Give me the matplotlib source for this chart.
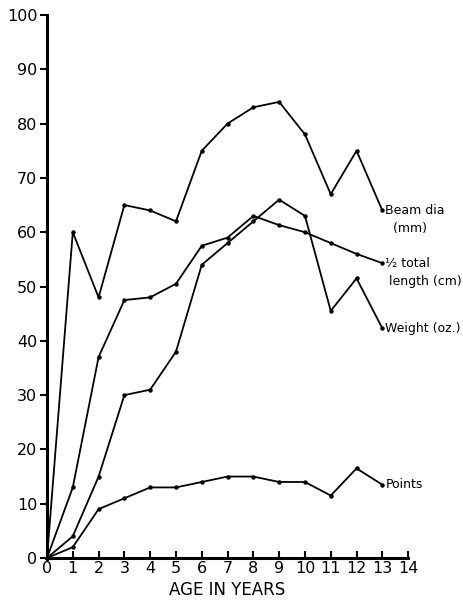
import matplotlib
matplotlib.use("Agg")
import matplotlib.pyplot as plt

# ── data ──
age = list(range(0, 14))
beam_dia = [0, 60, 48, 65, 64, 62, 75, 80, 83, 84, 78, 67, 75, 64]
half_length = [0, 13, 37, 47.5, 48, 50.5, 57.5, 59, 63, 61.3, 60, 58, 56, 54.3]
weight = [0, 4, 15, 30, 31, 38, 54, 58, 62, 66, 63, 45.5, 51.5, 42.3]
points = [0, 2, 9, 11, 13, 13, 14, 15, 15, 14, 14, 11.5, 16.5, 13.5]

series = [
    (beam_dia, ["Beam dia", "  (mm)"]),
    (half_length, ["½ total", " length (cm)"]),
    (weight, ["Weight (oz.)"]),
    (points, ["Points"]),
]

fig = plt.figure(figsize=(4.63, 6.07), dpi=100)
ax = fig.add_axes([0.1015, 0.0807, 0.78, 0.8946])

for vals, lines in series:
    ax.plot(age, vals, color="black", lw=1.3, marker="o", markersize=2.2,
            clip_on=False, zorder=3)
    for k, line in enumerate(lines):
        ax.text(age[-1] + 0.12, vals[-1] - 3.3 * k, line, fontsize=9,
                va="center", ha="left")

ax.set_xlim(0, 14)
ax.set_ylim(0, 100)
ax.set_xticks(range(0, 15))
ax.set_yticks(range(0, 101, 10))
ax.spines["top"].set_visible(False)
ax.spines["right"].set_visible(False)
ax.spines["left"].set_linewidth(2.2)
ax.spines["bottom"].set_linewidth(2.2)
ax.tick_params(axis="y", direction="out", length=5, width=1.5, labelsize=11.5, pad=2)
ax.tick_params(axis="x", direction="in", length=5, width=1.5, labelsize=11.5, pad=2)
ax.set_xlabel("AGE IN YEARS", fontsize=12, labelpad=4)

fig.savefig("out.png", dpi=100)
